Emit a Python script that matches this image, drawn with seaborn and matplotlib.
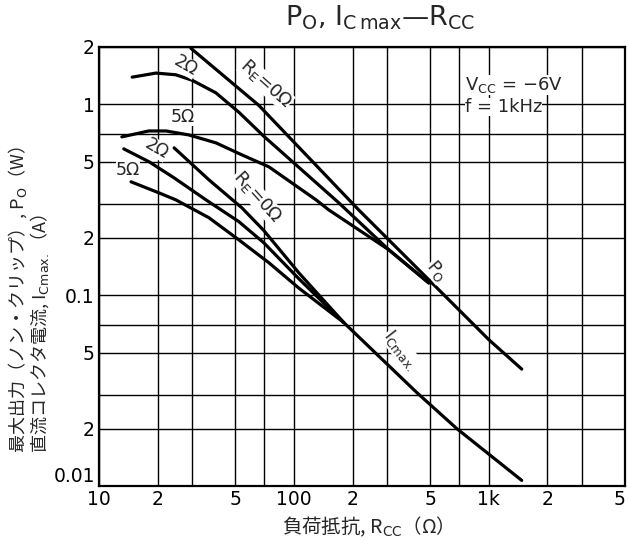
import matplotlib
matplotlib.use("Agg")
import matplotlib.pyplot as plt
import seaborn as sns
import pandas as pd
from matplotlib.ticker import FixedLocator, FixedFormatter, NullFormatter

# Po curves (load resistance in ohm, output in W)
po_re0_r = [29.6, 66, 215, 511, 1000, 1476]
po_re0_w = [1.97, 0.99, 0.28, 0.116, 0.0585, 0.041]
po_2_r = [14.8, 19.6, 24.8, 30.0, 39.8, 52.2, 70.2, 170, 307, 492]
po_2_w = [1.39, 1.46, 1.43, 1.34, 1.15, 0.91, 0.68, 0.305, 0.173, 0.116]
po_5_r = [13.1, 18.0, 22.1, 28.9, 39.8, 54.1, 74.4, 130, 151, 307, 492]
po_5_w = [0.676, 0.726, 0.726, 0.692, 0.629, 0.544, 0.471, 0.316, 0.28, 0.173, 0.116]

# Ic max curves (A)
ic_re0_r = [24.3, 36.6, 54.1, 70.2, 106, 180]
ic_re0_a = [0.592, 0.403, 0.287, 0.218, 0.131, 0.072]
ic_2_r = [13.4, 18.1, 24.3, 35.4, 52.2, 70.2, 106, 180]
ic_2_a = [0.585, 0.5, 0.412, 0.316, 0.243, 0.188, 0.122, 0.072]
ic_5_r = [14.6, 20.3, 24.8, 36.6, 52.2, 74.4, 106, 180]
ic_5_a = [0.393, 0.344, 0.316, 0.255, 0.195, 0.148, 0.109, 0.072]
ic_common_r = [180, 427, 685, 1476]
ic_common_a = [0.072, 0.0309, 0.02, 0.0107]

x_ticks = [10, 20, 50, 100, 200, 500, 1000, 2000, 5000]
x_tick_labels = ["10", "2", "5", "100", "2", "5", "1k", "2", "5"]
x_grid = [30, 70, 300, 700, 3000]
y_ticks = [0.01, 0.02, 0.05, 0.1, 0.2, 0.5, 1, 2]
y_tick_labels = ["0.01", "2", "5", "0.1", "2", "5", "1", "2"]
y_grid = [0.03, 0.07, 0.3, 0.7]

curves = [
    ("Po RE=0", po_re0_r, po_re0_w),
    ("Po 2", po_2_r, po_2_w),
    ("Po 5", po_5_r, po_5_w),
    ("Ic RE=0", ic_re0_r, ic_re0_a),
    ("Ic 2", ic_2_r, ic_2_a),
    ("Ic 5", ic_5_r, ic_5_a),
    ("Ic", ic_common_r, ic_common_a),
]
frames = [pd.DataFrame({"curve": n, "R": r, "val": v}) for n, r, v in curves]
df = pd.concat(frames, ignore_index=True)

sns.set_style("white")
plt.rcParams["font.family"] = ["DejaVu Sans", "Noto Sans CJK JP"]
jp = "Noto Sans CJK JP"

fig = plt.figure(figsize=(6.29, 5.44), dpi=100)
ax = fig.add_axes([99 / 629, 1 - 486 / 544, 526 / 629, 439 / 544])

for name in df["curve"].unique():
    sub = df[df["curve"] == name]
    sns.lineplot(data=sub, x="R", y="val", ax=ax, color="black", lw=2.3,
                 estimator=None, sort=False, zorder=3)

ax.set_xscale("log")
ax.set_yscale("log")
ax.set_xlim(10, 5000)
ax.set_ylim(0.01, 2)

ax.xaxis.set_major_locator(FixedLocator(x_ticks))
ax.xaxis.set_major_formatter(FixedFormatter(x_tick_labels))
ax.xaxis.set_minor_locator(FixedLocator(x_grid))
ax.xaxis.set_minor_formatter(NullFormatter())
ax.yaxis.set_major_locator(FixedLocator(y_ticks))
ax.yaxis.set_major_formatter(FixedFormatter(y_tick_labels))
ax.yaxis.set_minor_locator(FixedLocator(y_grid))
ax.yaxis.set_minor_formatter(NullFormatter())
ax.grid(True, which="both", color="black", lw=1.0)
ax.tick_params(which="both", length=0, labelsize=13.5, colors="black", pad=3)
for s in ax.spines.values():
    s.set_color("black")
    s.set_linewidth(1.6)
ax.set_xlabel("")
ax.set_ylabel("")

fig.canvas.draw()
ax.get_xticklabels()[-1].set_ha("right")
ax.get_yticklabels()[0].set_va("bottom")

box = dict(facecolor="white", edgecolor="none", pad=0)
fs = 12.5
ax.text(27.9, 1.59, "2Ω", rotation=-30, ha="center", va="center", fontsize=fs, bbox=box, zorder=4)
ax.text(71.8, 1.28, r"R$_\mathrm{E}$=0Ω", rotation=-42, ha="center", va="center", fontsize=13, bbox=box, zorder=4)
ax.text(27.0, 0.86, "5Ω", ha="center", va="center", fontsize=fs, bbox=box, zorder=4)
ax.text(19.8, 0.585, "2Ω", rotation=-30, ha="center", va="center", fontsize=fs, bbox=box, zorder=4)
ax.text(14.1, 0.454, "5Ω", ha="center", va="center", fontsize=fs, bbox=box, zorder=4)
ax.text(64.6, 0.328, r"R$_\mathrm{E}$=0Ω", rotation=-48, ha="center", va="center", fontsize=13, bbox=box, zorder=4)
ax.text(541, 0.134, r"P$_\mathrm{O}$", rotation=-50, ha="center", va="center", fontsize=fs, bbox=box, zorder=4)
ax.text(354, 0.0518, r"I$_\mathrm{Cmax.}$", rotation=-52, ha="center", va="center", fontsize=fs, bbox=box, zorder=4)
ax.text(754, 1.265, r"V$_\mathrm{CC}$ = −6V", ha="left", va="center", fontsize=13, bbox=box, zorder=4)
ax.text(754, 0.97, "f = 1kHz", ha="left", va="center", fontsize=13, bbox=box, zorder=4)

fig.text(380 / 629, 1 - 18 / 544, r"P$_\mathrm{O}$, I$_\mathrm{C\,max}$—R$_\mathrm{CC}$",
         ha="center", va="center", fontsize=19.5)
fig.text(363 / 629, 1 - 527 / 544, r"負荷抵抗, R$_\mathrm{CC}$（Ω）",
         ha="center", va="center", fontsize=14, fontfamily=jp)
ylabel = "最大出力（ノン・クリップ）, P$_\\mathrm{O}$（W）\n直流コレクタ電流, I$_\\mathrm{Cmax.}$（A）"
fig.text(29 / 629, 1 - 453 / 544, ylabel, rotation=90, ha="center", va="bottom",
         multialignment="left", linespacing=0.95, fontsize=13, fontfamily=jp)

fig.savefig("out.png", dpi=100)
